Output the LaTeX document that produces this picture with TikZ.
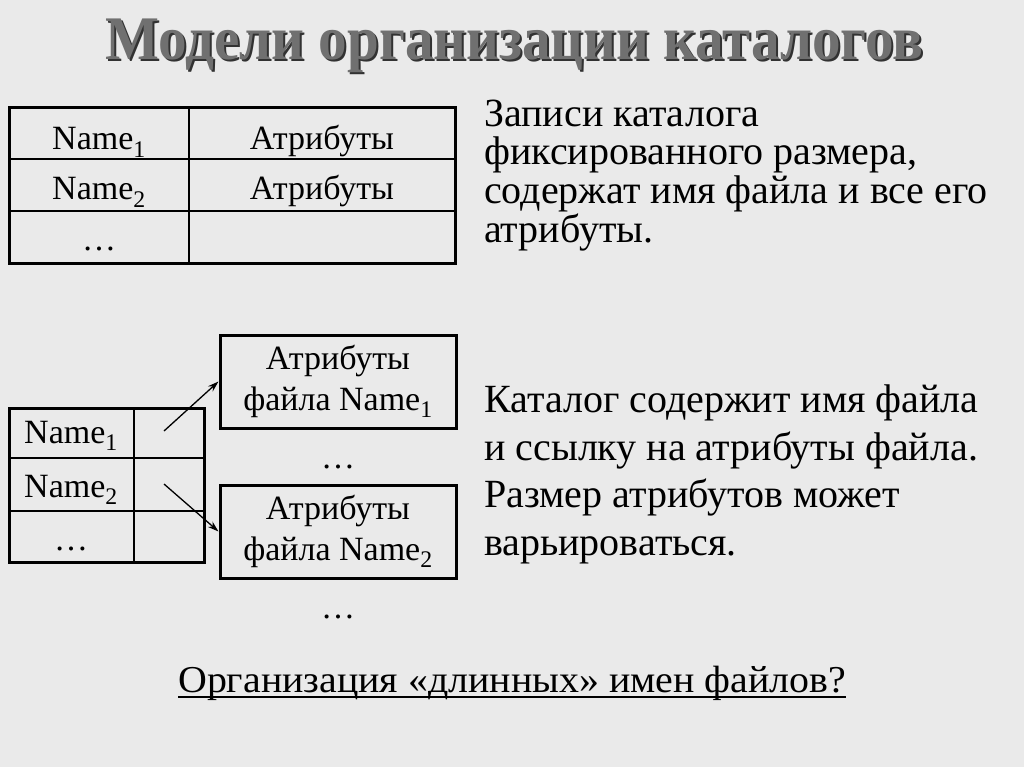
\documentclass[tikz,border=0pt]{standalone}
\usepackage{fontspec}
\setmainfont{Liberation Serif}
\usetikzlibrary{arrows.meta}
\definecolor{bg}{RGB}{234,234,234}
\definecolor{titlegray}{RGB}{112,112,112}
\definecolor{titleshade}{RGB}{50,50,50}
\begin{document}
\begin{tikzpicture}[x=1pt,y=-1pt,
  cell/.style={inner sep=0pt, anchor=base, font=\fontsize{34}{38}\selectfont},
  para/.style={inner sep=0pt, anchor=base west, font=\fontsize{40}{44}\selectfont},
  filebox/.style={draw, line width=3pt, minimum width=236pt, minimum height=93pt,
    inner sep=0pt, align=center, font=\fontsize{34}{41}\selectfont},
  thickline/.style={line width=3pt},
  thinline/.style={line width=2pt},
  link/.style={line width=1.3pt, -{Stealth[length=11pt,width=7pt]}},
  titlefont/.style={inner sep=0pt, anchor=base, font=\bfseries\fontsize{62}{68}\selectfont}]
\fill[bg] (0,0) rectangle (1024,767);
\useasboundingbox (0,0) rectangle (1024,767);

% title with shadow
\node[titlefont, text=titleshade] (titleshadow) at (516.5,62) {\resizebox{818pt}{\height}{Модели организации каталогов}};
\node[titlefont, text=titlegray] (title) at (514.5,60) {\resizebox{818pt}{\height}{Модели организации каталогов}};

% top table
\draw[thinline] (189,108) -- (189,263);
\draw[thinline] (9,159) -- (455,159);
\draw[thinline] (9,211) -- (455,211);
\draw[thickline] (9,108) rectangle (455,263);
\node[cell] (tn1) at (99,150) {Name\textsubscript{1}};
\node[cell] (ta1) at (322,150) {Атрибуты};
\node[cell] (tn2) at (99,200) {Name\textsubscript{2}};
\node[cell] (ta2) at (322,200) {Атрибуты};
\node[cell] (tdots) at (99,251) {…};

% right text 1
\node[para] (r1) at (484,127) {Записи каталога};
\node[para] (r2) at (484,165) {фиксированного размера,};
\node[para] (r3) at (484,204) {содержат имя файла и все его};
\node[para] (r4) at (484,242) {атрибуты.};

% bottom table
\draw[thinline] (134,408) -- (134,562);
\draw[thinline] (9,458) -- (204,458);
\draw[thinline] (9,511) -- (204,511);
\draw[thickline] (9,408) rectangle (204,562);
\node[cell] (bn1) at (71,443) {Name\textsubscript{1}};
\node[cell] (bn2) at (71,497) {Name\textsubscript{2}};
\node[cell] (bdots) at (71,550) {…};

% attribute boxes
\node[filebox] (f1) at (338,381.5) {Атрибуты\\файла Name\textsubscript{1}};
\node[filebox] (f2) at (338,531.5) {Атрибуты\\файла Name\textsubscript{2}};
\node[cell] (mdots) at (338,468) {…};
\node[cell] (ldots) at (338,618) {…};

\coordinate (s1) at (164,431);
\coordinate (s2) at (164,484);
\draw[link] (s1) -- (f1.west);
\draw[link] (s2) -- (f2.west);

% right text 2
\node[para] (q1) at (484,412) {Каталог содержит имя файла};
\node[para] (q2) at (484,460) {и ссылку на атрибуты файла.};
\node[para] (q3) at (484,507) {Размер атрибутов может};
\node[para] (q4) at (484,555) {варьироваться.};

% bottom question
\node[inner sep=0pt, anchor=base west, font=\fontsize{38}{42}\selectfont] (question) at (178,692)
  {\resizebox{668pt}{\height}{Организация «длинных» имен файлов?}};
\draw[line width=2pt] ([yshift=-5pt]question.base west) -- ([yshift=-5pt]question.base east);
\end{tikzpicture}
\end{document}
